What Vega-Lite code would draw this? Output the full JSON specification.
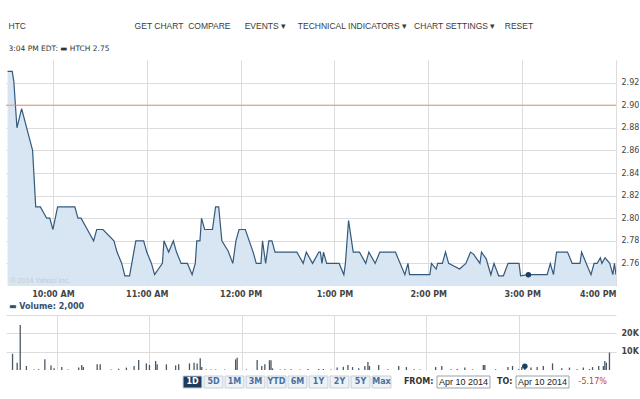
{
  "$schema": "https://vega.github.io/schema/vega-lite/v6.json",
  "background": "white",
  "padding": {"left": 5, "top": 22, "right": 0, "bottom": 0},
  "spacing": 5,
  "config": {"view": {"stroke": null}, "font": "DejaVu Sans"},
  "title": {
    "text": "HTC\u00a0\u00a0\u00a0\u00a0\u00a0\u00a0\u00a0\u00a0\u00a0\u00a0\u00a0\u00a0\u00a0\u00a0\u00a0\u00a0\u00a0\u00a0\u00a0\u00a0\u00a0\u00a0\u00a0\u00a0\u00a0\u00a0\u00a0\u00a0\u00a0\u00a0\u00a0\u00a0\u00a0\u00a0\u00a0\u00a0\u00a0\u00a0\u00a0\u00a0\u00a0\u00a0\u00a0\u00a0\u00a0\u00a0GET CHART\u00a0\u00a0COMPARE\u00a0\u00a0\u00a0\u00a0\u00a0\u00a0EVENTS ▾\u00a0\u00a0\u00a0\u00a0\u00a0TECHNICAL INDICATORS ▾\u00a0\u00a0\u00a0CHART SETTINGS ▾\u00a0\u00a0\u00a0\u00a0RESET",
    "anchor": "start", "dx": 3, "font": "Liberation Sans", "fontSize": 8.5, "fontWeight": "normal", "color": "#3a3a3a", "offset": 14
  },
  "vconcat": [
    {
      "width": 610,
      "height": 226,
      "title": {"text": "3:04 PM EDT:  ▬ HTCH 2.75", "anchor": "start", "dx": 3, "font": "DejaVu Sans", "fontSize": 7.5, "fontWeight": "normal", "color": "#333333", "offset": 8},
      "layer": [
        {
          "data": {
            "format": {"parse": {"t": "utc:'%H:%M'"}},
            "values": [
              {"t": "09:31", "p": 2.93}, {"t": "09:34", "p": 2.93}, {"t": "09:35", "p": 2.921}, {"t": "09:37", "p": 2.88},
              {"t": "09:40", "p": 2.897}, {"t": "09:43", "p": 2.881}, {"t": "09:47", "p": 2.86}, {"t": "09:49", "p": 2.81},
              {"t": "09:52", "p": 2.81}, {"t": "09:56", "p": 2.80}, {"t": "09:58", "p": 2.80}, {"t": "10:00", "p": 2.79},
              {"t": "10:03", "p": 2.81}, {"t": "10:14", "p": 2.81}, {"t": "10:16", "p": 2.80}, {"t": "10:18", "p": 2.80},
              {"t": "10:22", "p": 2.79}, {"t": "10:26", "p": 2.78}, {"t": "10:28", "p": 2.79}, {"t": "10:32", "p": 2.79},
              {"t": "10:39", "p": 2.78}, {"t": "10:41", "p": 2.77}, {"t": "10:44", "p": 2.76}, {"t": "10:46", "p": 2.749},
              {"t": "10:49", "p": 2.749}, {"t": "10:53", "p": 2.78}, {"t": "10:58", "p": 2.78}, {"t": "11:00", "p": 2.77},
              {"t": "11:03", "p": 2.76}, {"t": "11:05", "p": 2.75}, {"t": "11:10", "p": 2.76}, {"t": "11:11", "p": 2.78},
              {"t": "11:14", "p": 2.77}, {"t": "11:17", "p": 2.78}, {"t": "11:19", "p": 2.77}, {"t": "11:22", "p": 2.76},
              {"t": "11:26", "p": 2.76}, {"t": "11:29", "p": 2.75}, {"t": "11:31", "p": 2.76}, {"t": "11:32", "p": 2.78},
              {"t": "11:34", "p": 2.78}, {"t": "11:35", "p": 2.80}, {"t": "11:37", "p": 2.79}, {"t": "11:42", "p": 2.79},
              {"t": "11:44", "p": 2.81}, {"t": "11:46", "p": 2.81}, {"t": "11:48", "p": 2.78}, {"t": "11:52", "p": 2.771},
              {"t": "11:55", "p": 2.76}, {"t": "11:57", "p": 2.78}, {"t": "11:59", "p": 2.79}, {"t": "12:03", "p": 2.79},
              {"t": "12:08", "p": 2.77}, {"t": "12:10", "p": 2.76}, {"t": "12:13", "p": 2.76}, {"t": "12:14", "p": 2.78},
              {"t": "12:16", "p": 2.76}, {"t": "12:18", "p": 2.78}, {"t": "12:20", "p": 2.78}, {"t": "12:22", "p": 2.77},
              {"t": "12:31", "p": 2.77}, {"t": "12:36", "p": 2.77}, {"t": "12:40", "p": 2.76}, {"t": "12:42", "p": 2.77},
              {"t": "12:46", "p": 2.76}, {"t": "12:50", "p": 2.77}, {"t": "12:51", "p": 2.77}, {"t": "12:52", "p": 2.76},
              {"t": "12:53", "p": 2.77}, {"t": "12:55", "p": 2.76}, {"t": "13:03", "p": 2.76}, {"t": "13:06", "p": 2.75},
              {"t": "13:07", "p": 2.76}, {"t": "13:09", "p": 2.798}, {"t": "13:12", "p": 2.77}, {"t": "13:16", "p": 2.77},
              {"t": "13:20", "p": 2.76}, {"t": "13:22", "p": 2.77}, {"t": "13:26", "p": 2.76}, {"t": "13:29", "p": 2.77},
              {"t": "13:39", "p": 2.77}, {"t": "13:45", "p": 2.75}, {"t": "13:47", "p": 2.76}, {"t": "13:48", "p": 2.75},
              {"t": "14:01", "p": 2.75}, {"t": "14:02", "p": 2.76}, {"t": "14:05", "p": 2.755}, {"t": "14:06", "p": 2.76},
              {"t": "14:09", "p": 2.76}, {"t": "14:11", "p": 2.77}, {"t": "14:13", "p": 2.76}, {"t": "14:20", "p": 2.755},
              {"t": "14:24", "p": 2.76}, {"t": "14:27", "p": 2.77}, {"t": "14:29", "p": 2.768}, {"t": "14:33", "p": 2.76},
              {"t": "14:34", "p": 2.77}, {"t": "14:37", "p": 2.764}, {"t": "14:40", "p": 2.75}, {"t": "14:42", "p": 2.76},
              {"t": "14:45", "p": 2.749}, {"t": "14:48", "p": 2.749}, {"t": "14:51", "p": 2.76}, {"t": "14:58", "p": 2.76},
              {"t": "14:59", "p": 2.749}, {"t": "15:04", "p": 2.75}, {"t": "15:16", "p": 2.75}, {"t": "15:18", "p": 2.76},
              {"t": "15:20", "p": 2.75}, {"t": "15:22", "p": 2.77}, {"t": "15:29", "p": 2.77}, {"t": "15:32", "p": 2.76},
              {"t": "15:37", "p": 2.76}, {"t": "15:38", "p": 2.77}, {"t": "15:41", "p": 2.76}, {"t": "15:44", "p": 2.75},
              {"t": "15:46", "p": 2.76}, {"t": "15:48", "p": 2.76}, {"t": "15:50", "p": 2.765}, {"t": "15:51", "p": 2.76},
              {"t": "15:53", "p": 2.765}, {"t": "15:56", "p": 2.76}, {"t": "15:58", "p": 2.75}, {"t": "15:59", "p": 2.76},
              {"t": "16:00", "p": 2.75}
            ]
          },
          "mark": {"type": "area", "color": "#d7e6f2", "opacity": 1, "clip": true, "line": {"color": "#34597c", "strokeWidth": 1.2}},
          "encoding": {
            "x": {
              "field": "t", "type": "temporal",
              "scale": {"type": "utc", "domain": [
                {"year": 1900, "month": 1, "date": 1, "hours": 9, "minutes": 30, "utc": true},
                {"year": 1900, "month": 1, "date": 1, "hours": 16, "minutes": 0, "utc": true}
              ]},
              "axis": {
                "title": null, "tickCount": 30,
                "values": [
                  {"year": 1900, "month": 1, "date": 1, "hours": 10, "utc": true},
                  {"year": 1900, "month": 1, "date": 1, "hours": 11, "utc": true},
                  {"year": 1900, "month": 1, "date": 1, "hours": 12, "utc": true},
                  {"year": 1900, "month": 1, "date": 1, "hours": 13, "utc": true},
                  {"year": 1900, "month": 1, "date": 1, "hours": 14, "utc": true},
                  {"year": 1900, "month": 1, "date": 1, "hours": 15, "utc": true},
                  {"year": 1900, "month": 1, "date": 1, "hours": 16, "utc": true}
                ],
                "labelExpr": "utcFormat(datum.value, '%-I:%M %p')",
                "grid": true, "gridColor": "#dcdcdc", "ticks": false, "domain": false, "labelOverlap": false,
                "labelFont": "DejaVu Sans", "labelFontSize": 8, "labelFontWeight": "bold", "labelColor": "#444444", "labelPadding": 4, "labelFlush": true
              }
            },
            "y": {
              "field": "p", "type": "quantitative",
              "scale": {"domain": [2.74, 2.94], "zero": false, "nice": false},
              "axis": {
                "title": null, "orient": "right", "tickCount": 30,
                "values": [2.76, 2.78, 2.8, 2.82, 2.84, 2.86, 2.88, 2.9, 2.92],
                "format": ".2f", "grid": true, "gridColor": "#dcdcdc", "ticks": false, "domain": false, "labelOverlap": false,
                "labelFont": "DejaVu Sans", "labelFontSize": 8, "labelColor": "#444444", "labelPadding": 5
              }
            },
            "y2": {"datum": 2.74}
          }
        },
        {
          "data": {"values": [{"prevClose": 2.9}]},
          "mark": {"type": "rule", "color": "#d09a72", "strokeWidth": 1},
          "encoding": {"y": {"field": "prevClose", "type": "quantitative"}}
        },
        {
          "data": {"format": {"parse": {"t": "utc:'%H:%M'"}}, "values": [{"t": "15:04", "p": 2.75}]},
          "mark": {"type": "point", "filled": true, "color": "#1d3f60", "size": 30, "opacity": 1},
          "encoding": {
            "x": {"field": "t", "type": "temporal"},
            "y": {"field": "p", "type": "quantitative"}
          }
        },
        {
          "data": {"values": [{"note": "© 2014 Yahoo! Inc."}]},
          "mark": {"type": "text", "align": "left", "baseline": "middle", "color": "#c5cad1", "fontSize": 7, "font": "Liberation Sans"},
          "encoding": {
            "x": {"datum": {"year": 1900, "month": 1, "date": 1, "hours": 9, "minutes": 33, "utc": true}, "type": "temporal"},
            "y": {"datum": 2.744},
            "text": {"field": "note"}
          }
        }
      ]
    },
    {
      "width": 610,
      "height": 55,
      "title": {"text": "▬ Volume: 2,000", "anchor": "start", "dx": 3, "font": "DejaVu Sans", "fontSize": 8, "fontWeight": "bold", "color": "#34506e", "offset": 4},
      "layer": [
        {
          "data": {
            "format": {"parse": {"t": "utc:'%H:%M'"}},
            "values": [
              {"t": "09:31", "v": 8900}, {"t": "09:34", "v": 4000}, {"t": "09:36", "v": 24600}, {"t": "09:40", "v": 2200},
              {"t": "09:45", "v": 300}, {"t": "09:48", "v": 400}, {"t": "09:52", "v": 5800}, {"t": "09:56", "v": 2500},
              {"t": "09:58", "v": 900}, {"t": "10:03", "v": 1600}, {"t": "10:07", "v": 300}, {"t": "10:14", "v": 1300},
              {"t": "10:16", "v": 2700}, {"t": "10:17", "v": 1600}, {"t": "10:26", "v": 3100}, {"t": "10:28", "v": 3100},
              {"t": "10:35", "v": 300}, {"t": "10:40", "v": 700}, {"t": "10:45", "v": 1300}, {"t": "10:50", "v": 2200},
              {"t": "10:53", "v": 5500}, {"t": "10:58", "v": 3600}, {"t": "11:00", "v": 2700}, {"t": "11:04", "v": 4900},
              {"t": "11:05", "v": 3100}, {"t": "11:11", "v": 3100}, {"t": "11:17", "v": 2500}, {"t": "11:19", "v": 3100},
              {"t": "11:26", "v": 3600}, {"t": "11:29", "v": 4000}, {"t": "11:31", "v": 3600}, {"t": "11:33", "v": 6400},
              {"t": "11:34", "v": 1600}, {"t": "11:37", "v": 300}, {"t": "11:40", "v": 300}, {"t": "11:43", "v": 300},
              {"t": "11:49", "v": 300}, {"t": "11:56", "v": 5800}, {"t": "11:57", "v": 6700}, {"t": "12:03", "v": 300},
              {"t": "12:10", "v": 5500}, {"t": "12:13", "v": 2200}, {"t": "12:15", "v": 3100}, {"t": "12:18", "v": 5300},
              {"t": "12:19", "v": 5300}, {"t": "12:20", "v": 900}, {"t": "12:25", "v": 300}, {"t": "12:28", "v": 400},
              {"t": "12:32", "v": 400}, {"t": "12:38", "v": 300}, {"t": "12:43", "v": 500}, {"t": "12:50", "v": 500},
              {"t": "12:53", "v": 500}, {"t": "12:58", "v": 300}, {"t": "13:02", "v": 1300}, {"t": "13:06", "v": 1800},
              {"t": "13:09", "v": 2700}, {"t": "13:12", "v": 1600}, {"t": "13:16", "v": 900}, {"t": "13:20", "v": 2200},
              {"t": "13:22", "v": 4400}, {"t": "13:23", "v": 2200}, {"t": "13:29", "v": 2700}, {"t": "13:35", "v": 400},
              {"t": "13:42", "v": 2200}, {"t": "13:47", "v": 1600}, {"t": "13:52", "v": 400}, {"t": "13:56", "v": 300},
              {"t": "14:06", "v": 1600}, {"t": "14:10", "v": 2200}, {"t": "14:16", "v": 400}, {"t": "14:20", "v": 500},
              {"t": "14:25", "v": 1300}, {"t": "14:30", "v": 300}, {"t": "14:37", "v": 2700}, {"t": "14:38", "v": 2700},
              {"t": "14:45", "v": 400}, {"t": "14:53", "v": 1600}, {"t": "14:56", "v": 2200}, {"t": "15:00", "v": 400},
              {"t": "15:02", "v": 1600}, {"t": "15:04", "v": 2000}, {"t": "15:08", "v": 1300}, {"t": "15:12", "v": 1600},
              {"t": "15:16", "v": 2200}, {"t": "15:22", "v": 3600}, {"t": "15:28", "v": 900}, {"t": "15:33", "v": 1300},
              {"t": "15:38", "v": 400}, {"t": "15:42", "v": 1300}, {"t": "15:46", "v": 500}, {"t": "15:48", "v": 1600},
              {"t": "15:52", "v": 2200}, {"t": "15:55", "v": 2200}, {"t": "15:56", "v": 4900}, {"t": "15:57", "v": 4000},
              {"t": "15:59", "v": 9500}
            ]
          },
          "mark": {"type": "bar", "width": 1.3, "color": "#4a5866"},
          "encoding": {
            "x": {
              "field": "t", "type": "temporal",
              "scale": {"type": "utc", "domain": [
                {"year": 1900, "month": 1, "date": 1, "hours": 9, "minutes": 30, "utc": true},
                {"year": 1900, "month": 1, "date": 1, "hours": 16, "minutes": 0, "utc": true}
              ]},
              "axis": {
                "title": null, "orient": "top", "labels": false, "ticks": false, "domain": true, "domainColor": "#dcdcdc",
                "grid": true, "gridColor": "#dcdcdc", "tickCount": 30,
                "values": [
                  {"year": 1900, "month": 1, "date": 1, "hours": 10, "utc": true},
                  {"year": 1900, "month": 1, "date": 1, "hours": 11, "utc": true},
                  {"year": 1900, "month": 1, "date": 1, "hours": 12, "utc": true},
                  {"year": 1900, "month": 1, "date": 1, "hours": 13, "utc": true},
                  {"year": 1900, "month": 1, "date": 1, "hours": 14, "utc": true},
                  {"year": 1900, "month": 1, "date": 1, "hours": 15, "utc": true}
                ]
              }
            },
            "y": {
              "field": "v", "type": "quantitative",
              "scale": {"domain": [0, 30000], "nice": false},
              "axis": {
                "title": null, "orient": "right", "values": [10000, 20000], "labelOverlap": false, "tickCount": 30,
                "labelExpr": "(datum.value / 1000) + 'K'",
                "grid": true, "gridColor": "#dcdcdc", "ticks": false, "domain": false,
                "labelFont": "DejaVu Sans", "labelFontSize": 8, "labelFontWeight": "bold", "labelColor": "#444444", "labelPadding": 5
              }
            }
          }
        },
        {
          "data": {"format": {"parse": {"t": "utc:'%H:%M'"}}, "values": [{"t": "15:04", "v": 2000}]},
          "mark": {"type": "point", "filled": true, "color": "#1d3f60", "size": 30, "opacity": 1},
          "encoding": {
            "x": {"field": "t", "type": "temporal"},
            "y": {"field": "v", "type": "quantitative"}
          }
        }
      ]
    },
    {
      "width": 610,
      "height": 12,
      "layer": [
        {
          "data": {"values": [{"r": "1D"}, {"r": "5D"}, {"r": "1M"}, {"r": "3M"}, {"r": "YTD"}, {"r": "6M"}, {"r": "1Y"}, {"r": "2Y"}, {"r": "5Y"}, {"r": "Max"}]},
          "mark": {"type": "bar", "stroke": "#c5cfd9", "strokeWidth": 1},
          "encoding": {
            "x": {"field": "r", "type": "nominal", "sort": null, "scale": {"range": [176, 386], "paddingInner": 0.1, "paddingOuter": 0.05}, "axis": null},
            "color": {"condition": {"test": "datum.r === '1D'", "value": "#1e3b5b"}, "value": "#eef2f6"}
          }
        },
        {
          "data": {"values": [{"r": "1D"}, {"r": "5D"}, {"r": "1M"}, {"r": "3M"}, {"r": "YTD"}, {"r": "6M"}, {"r": "1Y"}, {"r": "2Y"}, {"r": "5Y"}, {"r": "Max"}]},
          "mark": {"type": "text", "fontWeight": "bold", "fontSize": 8, "font": "DejaVu Sans", "baseline": "middle"},
          "encoding": {
            "x": {"field": "r", "type": "nominal", "sort": null, "scale": {"range": [176, 386], "paddingInner": 0.1, "paddingOuter": 0.05}, "axis": null},
            "text": {"field": "r"},
            "color": {"condition": {"test": "datum.r === '1D'", "value": "#ffffff"}, "value": "#4870a0"}
          }
        },
        {
          "data": {"values": [{"k": "FROM", "label": "FROM:", "d": "Apr 10 2014"}, {"k": "TO", "label": "TO:", "d": "Apr 10 2014", "chg": "-5.17%"}]},
          "layer": [
            {
              "mark": {"type": "bar", "fill": "#ffffff", "stroke": "#9aa3ac", "strokeWidth": 1},
              "encoding": {
                "x": {"field": "k", "type": "nominal", "sort": null, "scale": {"range": [431, 563], "paddingInner": 0.33, "paddingOuter": 0}, "axis": null}
              }
            },
            {
              "mark": {"type": "text", "font": "Liberation Sans", "fontSize": 9, "color": "#222222", "baseline": "middle"},
              "encoding": {
                "x": {"field": "k", "type": "nominal", "sort": null, "axis": null},
                "text": {"field": "d"}
              }
            },
            {
              "mark": {"type": "text", "font": "DejaVu Sans", "fontSize": 8, "fontWeight": "bold", "color": "#333333", "baseline": "middle", "align": "right", "dx": -30},
              "encoding": {
                "x": {"field": "k", "type": "nominal", "sort": null, "axis": null},
                "text": {"field": "label"}
              }
            },
            {
              "transform": [{"filter": "datum.chg"}],
              "mark": {"type": "text", "font": "DejaVu Sans", "fontSize": 8, "color": "#cc3a3a", "baseline": "middle", "align": "left", "dx": 36},
              "encoding": {
                "x": {"field": "k", "type": "nominal", "sort": null, "axis": null},
                "text": {"field": "chg"}
              }
            }
          ]
        }
      ],
      "resolve": {"scale": {"x": "independent"}}
    }
  ]
}
